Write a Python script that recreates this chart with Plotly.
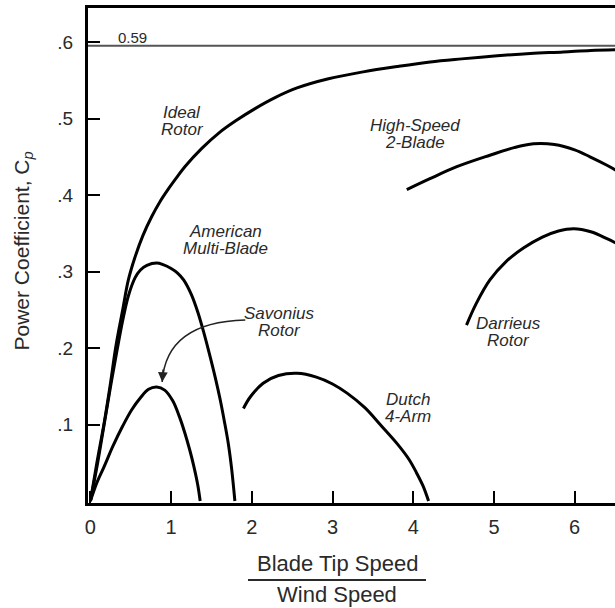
import plotly.graph_objects as go

# ---- data ----
ideal_x = [0, 0.08, 0.17, 0.25, 0.315, 0.40, 0.47, 0.55, 0.65, 0.76, 0.86, 0.96, 1.07, 1.17, 1.38,
           1.59, 1.8, 2.04, 2.3, 2.56, 2.95, 3.38, 3.8, 4.21, 4.6, 5.04, 5.45, 5.86, 6.2, 6.55]
ideal_y = [0, 0.05, 0.102, 0.155, 0.202, 0.250, 0.289, 0.318, 0.347, 0.372, 0.391, 0.407, 0.423, 0.437, 0.461,
           0.481, 0.497, 0.513, 0.528, 0.540, 0.552, 0.561, 0.568, 0.574, 0.578, 0.582, 0.585, 0.587, 0.589, 0.590]

american_x = [0, 0.09, 0.17, 0.25, 0.33, 0.40, 0.47, 0.554, 0.62, 0.70, 0.82, 0.90, 1.0, 1.08, 1.155,
              1.25, 1.33, 1.40, 1.48, 1.55, 1.607, 1.66, 1.71, 1.75, 1.79]
american_y = [0, 0.05, 0.100, 0.150, 0.197, 0.236, 0.268, 0.292, 0.302, 0.308, 0.311, 0.309, 0.304, 0.298, 0.289,
              0.270, 0.247, 0.222, 0.190, 0.160, 0.133, 0.104, 0.074, 0.042, 0]

savonius_x = [0, 0.08, 0.17, 0.28, 0.40, 0.51, 0.62, 0.72, 0.82, 0.92, 1.02, 1.10, 1.17, 1.23, 1.28, 1.33, 1.36]
savonius_y = [0, 0.024, 0.045, 0.072, 0.098, 0.119, 0.135, 0.146, 0.149, 0.145, 0.131, 0.111, 0.089, 0.067,
              0.046, 0.021, 0]

dutch_x = [1.896, 1.98, 2.14, 2.33, 2.56, 2.80, 3.00, 3.18, 3.40, 3.59, 3.80, 3.95, 4.04, 4.12, 4.19]
dutch_y = [0.121, 0.136, 0.154, 0.164, 0.167, 0.162, 0.153, 0.141, 0.122, 0.100, 0.075, 0.054, 0.037, 0.020, 0]

highspeed_x = [3.92, 4.2, 4.54, 4.95, 5.25, 5.49, 5.75, 6.0, 6.19, 6.4, 6.55]
highspeed_y = [0.407, 0.421, 0.437, 0.452, 0.462, 0.467, 0.466, 0.459, 0.450, 0.439, 0.430]

darrieus_x = [4.66, 4.78, 4.95, 5.15, 5.37, 5.6, 5.8, 5.99, 6.2, 6.4, 6.55]
darrieus_y = [0.230, 0.258, 0.289, 0.313, 0.331, 0.345, 0.353, 0.356, 0.352, 0.343, 0.335]

betz_value = 0.595
betz_label = "0.59"

x_tick_vals = [0, 1, 2, 3, 4, 5, 6]
x_tick_text = ["0", "1", "2", "3", "4", "5", "6"]
y_tick_vals = [0.1, 0.2, 0.3, 0.4, 0.5, 0.6]
y_tick_text = [".1", ".2", ".3", ".4", ".5", ".6"]

label_line1 = ["Ideal", "American", "Savonius", "Dutch", "High-Speed", "Darrieus"]
label_line2 = ["Rotor", "Multi-Blade", "Rotor", "4-Arm", "2-Blade", "Rotor"]
label_x = [1.139, 1.669, 2.338, 3.937, 4.024, 5.176]
label_y = [0.497, 0.341, 0.234, 0.1216, 0.480, 0.221]

# Savonius pointer arrow: start, control, tip (data coords)
arrow_pts = [(1.919, 0.2366), (0.938, 0.234), (0.889, 0.1556)]

FONT = "Liberation Sans, Arial, Helvetica, sans-serif"
TXT = "#2a2a2a"

# plot area in pixels
L, T, W, H = 88, 8, 527, 495

fig = go.Figure()
curves = [(ideal_x, ideal_y), (american_x, american_y), (savonius_x, savonius_y),
          (dutch_x, dutch_y), (highspeed_x, highspeed_y), (darrieus_x, darrieus_y)]
for cx, cy in curves:
    fig.add_trace(go.Scatter(x=cx, y=cy, mode="lines",
                             line=dict(color="black", width=3, shape="spline", smoothing=1.0),
                             hoverinfo="skip", showlegend=False))

# Betz limit line
fig.add_shape(type="line", xref="paper", x0=0, x1=1, yref="y", y0=betz_value, y1=betz_value,
              line=dict(color="#555555", width=2))
fig.add_annotation(x=0.517, y=betz_value, xref="x", yref="y", text=betz_label, showarrow=False,
                   yshift=8, font=dict(family=FONT, size=15, color=TXT))

# curve labels (two tightly spaced lines each)
for l1, l2, lx, ly in zip(label_line1, label_line2, label_x, label_y):
    fig.add_annotation(x=lx, y=ly, text="<i>" + l1 + "</i>", showarrow=False, yshift=8.5,
                       borderpad=0, font=dict(family=FONT, size=17, color=TXT))
    fig.add_annotation(x=lx, y=ly, text="<i>" + l2 + "</i>", showarrow=False, yshift=-8.5,
                       borderpad=0, font=dict(family=FONT, size=17, color=TXT))

# curved arrow for Savonius
(p0, c, p2) = arrow_pts
fig.add_shape(type="path", xref="x", yref="y",
              path=f"M {p0[0]},{p0[1]} Q {c[0]},{c[1]} {p2[0]},{p2[1]}",
              line=dict(color="#222222", width=1.5))
fig.add_annotation(x=p2[0], y=p2[1], ax=1, ay=-14, xref="x", yref="y", text="",
                   showarrow=True, arrowhead=2, arrowsize=1.3, arrowwidth=1.5, arrowcolor="#222222")

# x-axis title as a fraction
xc = (337 - L) / W
fig.add_annotation(x=xc, y=0, xref="paper", yref="paper", text="Blade Tip Speed",
                   showarrow=False, yshift=-60, xanchor="center", yanchor="middle", borderpad=0,
                   font=dict(family=FONT, size=22, color=TXT))
fig.add_shape(type="line", xref="paper", yref="paper", x0=(248 - L) / W, x1=(426 - L) / W,
              y0=-77 / H, y1=-77 / H, line=dict(color=TXT, width=2))
fig.add_annotation(x=xc, y=0, xref="paper", yref="paper", text="Wind Speed",
                   showarrow=False, yshift=-91, xanchor="center", yanchor="middle", borderpad=0,
                   font=dict(family=FONT, size=22, color=TXT))

# y-axis title
fig.add_annotation(x=(23 - L) / W, y=(T + H - 251.5) / H, xref="paper", yref="paper",
                   text="Power Coefficient, C<sub><i>p</i></sub>", textangle=-90, showarrow=False,
                   xanchor="center", yanchor="middle", font=dict(family=FONT, size=21, color=TXT))

fig.update_layout(
    width=615, height=608,
    margin=dict(l=L, r=615 - L - W, t=T, b=608 - T - H, autoexpand=False),
    plot_bgcolor="white", paper_bgcolor="white",
    font=dict(family=FONT, color=TXT),
    xaxis=dict(range=[-0.03, 6.5], tickvals=x_tick_vals, ticktext=x_tick_text,
               ticks="inside", ticklen=12, tickwidth=2, tickcolor="black",
               showline=True, linewidth=3, linecolor="black", mirror=True,
               showgrid=False, zeroline=False, ticklabelstandoff=4, automargin=False,
               tickfont=dict(family=FONT, size=20, color=TXT)),
    yaxis=dict(range=[-0.0026, 0.6445], tickvals=y_tick_vals, ticktext=y_tick_text,
               ticks="inside", ticklen=12, tickwidth=2, tickcolor="black",
               showline=True, linewidth=3, linecolor="black",
               showgrid=False, zeroline=False, ticklabelstandoff=8, automargin=False,
               tickfont=dict(family=FONT, size=19, color=TXT)),
)

fig.write_html("out.html", config={"displayModeBar": False},
               post_script="document.body.style.margin='0';document.body.style.overflow='hidden';")
